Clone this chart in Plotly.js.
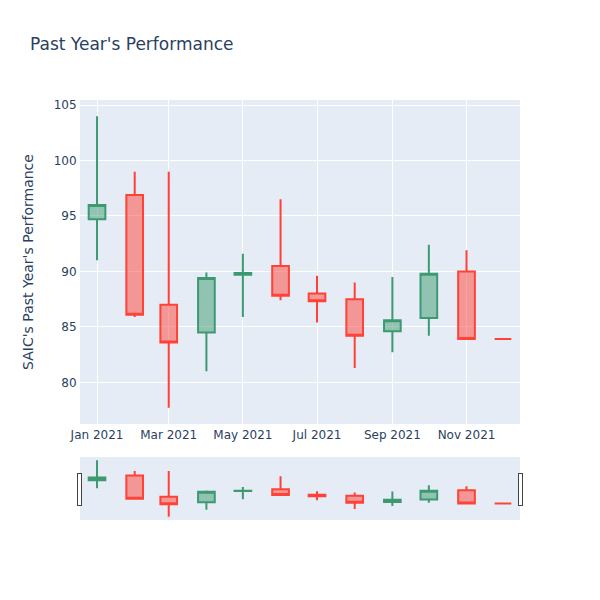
<!DOCTYPE html>
<html>
<head>
<meta charset="utf-8">
<script src="https://cdn.plot.ly/plotly-3.0.1.min.js"></script>
<style>html,body{margin:0;padding:0;}#chart{width:600px;height:600px;}</style>
</head>
<body>
<div id="chart"></div>
<script>
const dates = ['2021-01-01','2021-02-01','2021-03-01','2021-04-01','2021-05-01','2021-06-01','2021-07-01','2021-08-01','2021-09-01','2021-10-01','2021-11-01','2021-12-01'];
const openVals  = [94.7, 96.9, 87.0, 84.5, 89.7, 90.5, 88.0, 87.5, 84.6, 85.8, 90.0, 83.9];
const highVals  = [104.0, 99.0, 99.0, 89.9, 91.6, 96.5, 89.6, 89.0, 89.5, 92.4, 91.9, 83.9];
const lowVals   = [91.0, 85.9, 77.7, 81.0, 85.9, 87.4, 85.4, 81.3, 82.7, 84.2, 83.9, 83.9];
const closeVals = [96.0, 86.1, 83.6, 89.4, 89.85, 87.8, 87.3, 84.2, 85.6, 89.8, 83.9, 83.9];

const trace = {
  type: 'candlestick',
  x: dates, open: openVals, high: highVals, low: lowVals, close: closeVals,
  increasing: {line: {color: '#3D9970'}},
  decreasing: {line: {color: '#FF4136'}}
};

const layout = {
  width: 600, height: 600,
  font: {family: '"DejaVu Sans", verdana, arial, sans-serif', color: '#2a3f5f'},
  title: {text: "Past Year's Performance", x: 0.05},
  paper_bgcolor: 'white',
  plot_bgcolor: '#E5ECF6',
  showlegend: false,
  xaxis: {
    gridcolor: 'white', linecolor: 'white', zerolinecolor: 'white',
    rangeslider: {visible: true}
  },
  yaxis: {
    title: {text: "SAIC's Past Year's Performance", standoff: 16},
    gridcolor: 'white', linecolor: 'white', zerolinecolor: 'white', zerolinewidth: 2
  }
};

Plotly.newPlot('chart', [trace], layout, {displayModeBar: false});
</script>
</body>
</html>
